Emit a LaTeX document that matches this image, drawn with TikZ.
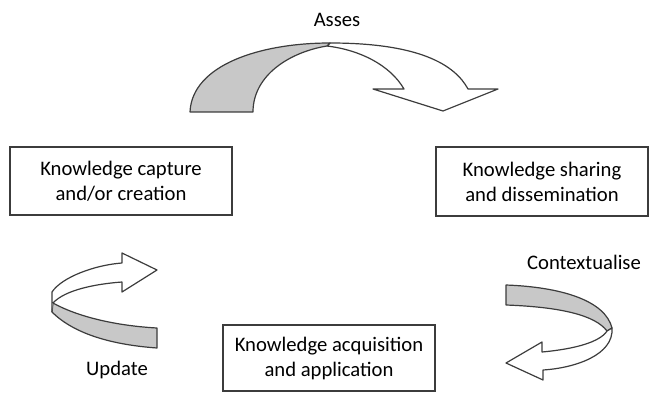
\documentclass[tikz,border=0pt]{standalone}
\usepackage{fontspec}
\setmainfont{Carlito}

\definecolor{bandgray}{RGB}{200,200,200}
\definecolor{edgegray}{RGB}{60,60,60}

\tikzset{every picture/.style={line width=0.75pt}}
\tikzset{
  stagebox/.style={draw=edgegray, line width=1.1pt, fill=white, align=center, inner sep=0.75pt,
    font=\fontsize{15.5}{18.75}\selectfont},
  steplabel/.style={inner sep=0.75pt, font=\fontsize{15.5}{18}\selectfont, text=black},
  ribbon/.style={draw=edgegray, line width=0.9pt, line join=round}
}

\begin{document}
\begin{tikzpicture}[x=0.75pt,y=0.75pt,yscale=-1,xscale=1]
\useasboundingbox (0,0) rectangle (652,392);

% Stage boxes
\node (capture) [stagebox, minimum width=166.5pt, minimum height=51pt] at (121,181) {Knowledge capture\\and/or creation};
\node (sharing) [stagebox, minimum width=159pt, minimum height=51.75pt] at (542,181.5) {Knowledge sharing\\and dissemination};
\node (acquire) [stagebox, minimum width=159pt, minimum height=49.5pt] at (329,358) {Knowledge acquisition\\and application};

% Top arrow, front face
\draw [ribbon, fill=white] (330,43) .. controls (420,43) and (455,65) .. (468,89) -- (498,89) -- (443,111) -- (373,89) -- (404,89) .. controls (390,65) and (360,50) .. (327,46) -- cycle ;
% Top arrow, back face
\draw [ribbon, fill=bandgray] (190,112) .. controls (192,65) and (260,43) .. (330,43) -- (327,46) .. controls (290,52) and (253,75) .. (253,112) -- cycle ;

% Left arrow, back face
\draw [ribbon, fill=bandgray] (53,303) .. controls (80,318) and (120,326) .. (157,328) -- (157,348) .. controls (115,345) and (75,335) .. (52,312) -- cycle ;
% Left arrow, front face
\draw [ribbon, fill=white] (52,312) -- (52,292) .. controls (62,277) and (95,265) .. (122,263) -- (122,253) -- (157,270) -- (122,292) -- (122,282) .. controls (95,284) and (65,290) .. (53,303) ;

% Right arrow, back face
\draw [ribbon, fill=bandgray] (506,285) .. controls (560,287) and (605,300) .. (612,328) -- (607,331) .. controls (595,315) and (560,307) .. (506,305) -- cycle ;
% Right arrow, front face
\draw [ribbon, fill=white] (612,328) .. controls (614,355) and (575,368) .. (543,370) -- (543,380) -- (506,363) -- (542,342) -- (542,352) .. controls (575,349) and (600,342) .. (607,331) -- cycle ;

% Step labels
\node (asses) [steplabel] at (337,20) {Asses};
\node (update) [steplabel] at (117,370) {Update};
\node (context) [steplabel] at (584,262) {Contextualise};

\end{tikzpicture}
\end{document}
